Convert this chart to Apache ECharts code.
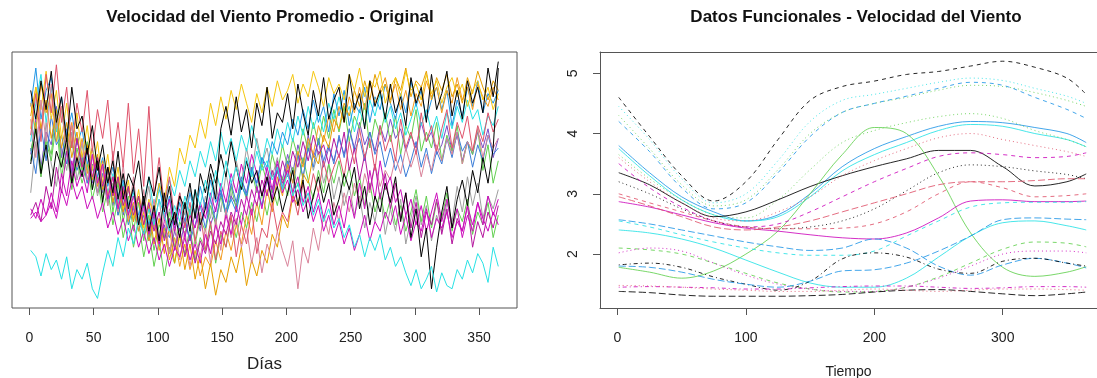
<!DOCTYPE html>
<html>
<head>
<meta charset="utf-8">
<script src="https://cdn.jsdelivr.net/npm/echarts@6/dist/echarts.min.js"></script>
<style>
  html, body { margin: 0; padding: 0; background: #fff; }
  #chart { width: 1097px; height: 378px; }
</style>
</head>
<body>
<div id="chart"></div>
<script>
// ---- left panel: daily wind speed, one reading every 4 days (day 1 .. 365)
const rawBlack = [6.8,5.9,7.1,6.2,7.4,5.8,6.6,5.2,6.9,5.6, 6.0,4.8,5.7,4.3,5.1,3.9,4.6,3.4,4.2,3.1, 3.8,2.6,3.5,2.4,3.2,2.1,3.6,2.5,3.0,2.2, 3.3,2.4,3.7,2.6,3.1,4.2,3.4,5.6,6.3,5.4, 6.6,5.5,6.2,5.0,6.4,5.7,6.9,5.3,6.1,5.8, 6.7,5.6,7.0,6.1,5.4,6.8,6.0,7.2,5.9,6.5, 6.9,5.8,7.3,6.2,6.7,5.6,7.1,6.3,6.8,5.9, 7.0,6.1,6.6,5.7,7.2,6.4,6.9,5.8,7.3,6.2, 6.7,7.4,6.0,6.8,5.9,7.1,6.4,6.9,6.1,7.5,6.6,7.7];
const rawPink = [5.4,6.7,5.2,7.3,6.1,7.6,5.8,6.9,5.0,6.4, 5.5,6.8,4.9,6.2,5.3,6.5,4.6,5.8,4.4,6.4, 4.2,5.6,3.8,6.3,3.5,4.7,3.2,4.1,2.8,3.6, 2.5,3.3,2.1,3.0,1.8,2.7,1.5,2.4,1.9,2.9, 1.6,2.6,2.0,3.1,1.7,2.5,2.2,3.3,2.4,3.0, 2.7,3.6,2.9,3.9,3.3,4.2,3.6,4.6,3.9,4.4, 4.8,4.1,5.2,4.5,5.6,4.7,5.3,4.3,5.7,4.9, 5.4,4.6,5.9,5.0,5.5,4.8,6.1,5.2,5.7,4.9, 5.6,6.2,5.0,5.8,5.3,6.0,4.9,5.7,5.2,6.1,5.5,5.9];
const rawGreen = [4.6,5.8,4.1,5.3,4.8,6.2,4.4,5.5,3.9,5.0, 4.3,5.2,3.7,4.6,3.4,4.4,3.0,3.9,2.7,3.5, 2.4,3.3,2.1,2.9,1.8,2.6,2.2,3.0,1.9,2.7, 2.3,3.1,2.0,2.8,2.4,3.2,2.6,3.5,2.9,3.8, 3.1,3.9,3.4,4.3,3.6,4.5,3.9,4.8,4.2,5.1, 4.4,5.3,4.7,5.6,4.9,5.8,5.1,6.0,5.3,6.2, 5.5,6.3,5.2,6.0,5.6,6.4,5.0,5.9,5.4,6.1, 5.2,6.0,4.8,5.7,5.3,6.2,4.9,5.5,5.0,5.8, 4.6,5.4,4.9,5.7,4.5,5.2,4.8,5.6,4.3,5.1,3.9,4.6];
const rawGreen2 = [4.9,5.6,4.3,5.2,4.6,5.8,4.1,5.0,3.7,4.6, 3.9,4.5,3.4,4.1,3.0,3.7,2.6,3.4,2.2,3.0, 1.9,2.7,1.6,2.4,1.3,2.1,1.0,1.9,1.4,2.3, 1.7,2.5,1.5,2.2,1.8,2.6,1.4,2.3,1.9,2.8, 2.2,3.0,2.5,3.3,2.7,3.6,2.9,3.8,3.2,4.1, 3.5,4.4,3.8,4.7,4.0,3.4,4.3,3.6,4.5,3.9, 4.6,3.8,4.4,3.5,4.1,3.2,3.9,3.0,3.6,2.8, 3.4,2.6,3.2,2.4,3.0,3.7,2.7,3.5,2.5,3.3, 2.8,3.6,2.4,3.1,2.7,3.4,2.3,3.0,2.6,3.3,2.2,2.9];
const rawBlue = [6.3,7.5,5.9,6.8,7.2,6.0,6.6,5.4,6.1,5.1, 5.6,4.5,5.0,4.1,4.7,3.8,4.4,3.5,4.0,3.2, 3.7,2.9,3.4,2.6,3.1,3.9,2.8,3.5,2.5,3.3, 2.7,3.6,2.9,3.8,3.1,4.0,3.3,3.7,2.9,3.4, 3.0,3.8,3.5,4.3,3.9,4.7,4.4,5.2,4.8,5.5, 5.1,5.9,5.4,6.2,5.6,6.5,5.8,6.3,5.5,6.7, 6.0,6.8,5.7,6.4,6.1,6.9,5.8,6.6,6.2,7.0, 6.4,5.9,6.7,6.1,7.1,6.3,6.8,5.9,6.5,6.9, 6.2,6.8,5.7,6.5,6.0,6.9,6.3,7.1,6.1,6.7,6.4,6.8];
const rawBlue2 = [5.0,4.2,5.7,4.6,6.0,5.1,5.4,4.5,5.2,4.3, 4.8,3.9,4.5,3.6,4.2,3.3,3.8,2.9,3.5,2.6, 3.2,2.4,2.9,2.1,2.7,1.9,2.5,2.2,3.0,2.4, 2.8,2.1,2.6,3.2,2.5,3.4,2.7,3.6,3.0,3.9, 3.3,4.1,3.5,4.4,3.8,3.2,4.0,3.4,4.3,3.7, 4.6,3.9,4.8,4.1,5.0,4.4,5.3,4.6,5.1,4.5, 5.4,4.7,5.6,4.9,5.3,4.6,5.5,4.8,5.2,4.4, 5.0,4.3,4.8,4.1,4.6,5.2,4.4,5.0,4.2,4.9, 4.5,5.3,4.7,5.5,4.9,5.2,4.4,5.1,4.6,5.4,4.8,5.0];
const rawCyanLow = [1.8,1.6,1.0,1.7,1.2,1.5,0.9,1.6,0.6,1.2, 0.9,1.4,0.6,0.3,1.1,1.8,1.3,2.2,1.6,2.5, 2.0,2.8,2.3,3.1,2.6,3.4,2.9,2.4,3.2,2.7, 3.5,2.9,3.7,3.2,4.0,3.4,4.3,3.7,4.6,3.9, 4.4,3.8,4.7,4.1,4.9,4.3,4.6,4.0,4.4,3.7, 4.2,3.5,3.9,3.2,3.6,2.9,3.4,2.7,3.1,2.5, 2.8,2.2,2.6,1.9,2.3,1.6,2.2,1.8,2.3,1.5, 1.9,1.3,1.6,1.1,0.7,1.2,0.6,0.9,1.3,0.5, 1.1,0.7,0.6,1.2,0.9,1.5,1.1,1.7,1.4,0.8,1.9,1.3];
const rawCyanHigh = [5.2,6.4,7.3,5.8,6.9,5.5,6.2,4.9,5.7,4.6, 5.1,4.3,4.8,3.9,4.5,3.6,4.2,3.3,3.9,3.0, 3.6,2.8,3.3,4.1,3.0,3.7,3.2,4.0,3.5,4.3, 3.8,4.6,4.1,4.9,4.4,5.2,4.6,5.5,4.8,5.3, 4.6,5.4,4.9,5.7,5.1,4.5,5.3,4.8,5.6,5.0, 5.8,5.2,6.0,5.4,6.3,5.6,6.1,5.5,6.4,5.9, 6.6,5.9,6.3,5.5,6.2,5.7,6.5,6.0,6.7,5.8, 6.3,5.6,6.1,5.4,5.9,6.4,5.7,6.2,5.5,6.0, 5.3,6.1,5.6,6.3,5.8,6.5,5.9,6.2,5.4,6.0,5.7,6.3];
const rawMagenta = [3.1,2.8,3.4,2.9,3.6,3.0,4.2,3.5,4.6,3.8, 4.3,3.6,4.8,3.9,4.5,3.4,4.1,3.1,3.8,2.9, 3.5,2.6,3.2,2.3,3.0,2.0,2.7,3.4,2.4,3.1, 2.2,2.9,2.5,3.3,2.8,3.6,3.0,3.9,3.3,4.2, 3.6,4.5,3.9,4.8,4.2,3.5,4.4,3.7,4.6,3.9, 4.3,3.6,4.1,3.3,3.8,3.0,3.6,2.8,3.4,2.6, 3.2,2.5,3.5,2.8,3.9,3.1,4.3,3.4,4.6,3.7, 4.1,3.3,3.7,2.9,3.4,2.6,3.2,2.4,3.0,3.6, 2.7,3.4,2.5,3.1,2.2,2.9,2.4,3.3,2.6,3.5,2.9,3.4];
const rawMagenta2 = [2.9,3.3,2.7,3.8,3.1,4.4,3.6,4.9,4.0,5.3, 4.4,5.0,4.1,4.7,3.8,4.4,3.5,4.1,3.2,3.8, 2.9,3.5,2.6,3.3,2.4,3.0,2.1,2.8,1.8,2.5, 1.6,2.3,1.4,2.1,1.7,2.4,2.0,2.7,2.3,3.0, 2.6,3.4,2.9,3.7,3.2,4.0,3.5,4.3,3.8,4.6, 4.1,4.9,4.4,5.2,4.6,5.4,4.8,5.1,4.5,5.3, 4.7,5.5,4.3,5.0,4.0,4.8,3.7,4.5,3.4,4.2, 3.1,3.9,2.8,3.6,2.5,3.3,2.2,3.0,2.6,3.4, 2.3,3.1,2.0,2.8,2.4,3.2,1.9,2.7,2.2,3.0,2.5,3.2];
const rawMagenta3 = [2.8,3.0,2.7,2.9,3.3,2.8,3.7,3.2,4.0,3.4, 3.8,3.1,3.5,2.8,3.3,2.5,3.0,2.3,2.8,2.1, 2.6,1.9,2.4,1.7,2.2,1.5,2.0,1.3,1.9,1.6, 2.2,1.5,2.0,1.4,2.3,1.7,2.6,2.0,2.9,2.3, 3.2,2.6,3.5,2.9,3.8,3.1,4.1,3.4,4.4,3.6, 4.0,3.3,3.7,3.0,3.4,2.7,3.2,2.4,2.9,2.2, 2.7,2.0,2.5,1.8,2.3,2.9,2.1,2.7,2.4,3.0, 2.6,3.2,2.3,2.9,2.1,2.7,2.4,3.1,2.2,2.8, 2.5,3.0,2.2,2.7,2.4,3.2,2.6,3.3,2.8,2.4,3.0,2.6];
const rawYellow = [5.6,6.9,6.2,7.4,5.9,6.8,5.3,6.4,5.0,6.1, 4.7,5.7,4.3,5.2,3.9,4.8,3.5,4.4,3.1,4.0, 2.8,3.7,2.5,3.4,2.9,3.9,3.3,4.4,3.8,5.0, 4.5,5.4,5.0,5.9,5.3,6.4,5.7,6.6,5.9,6.8, 6.2,7.0,6.4,5.8,6.7,6.1,6.9,6.3,7.1,6.5, 6.8,7.3,6.4,7.0,6.6,7.4,6.9,6.3,7.2,6.7, 7.0,6.5,7.3,6.8,7.5,6.6,7.1,6.9,7.4,6.4, 6.9,7.2,6.6,7.4,6.8,7.0,6.5,7.3,6.7,7.1, 6.4,6.9,7.2,6.6,7.0,6.3,6.8,7.1,6.5,6.9,6.2,6.7];
const rawGray = [3.6,5.2,4.1,5.8,4.5,3.8,5.0,4.3,5.5,4.0, 4.7,3.9,4.4,3.5,4.2,3.2,3.9,2.9,3.6,3.3, 2.7,3.5,3.0,3.8,2.6,3.4,2.2,3.1,2.5,3.6, 2.9,3.7,3.2,2.5,3.5,2.8,3.9,3.0,4.2,3.4, 4.6,3.9,5.0,4.2,5.3,4.5,5.0,4.1,4.7,3.8, 4.4,3.6,4.8,4.0,5.2,4.3,4.9,3.9,4.5,3.4, 4.1,3.2,3.8,2.9,3.5,2.5,3.3,2.7,3.6,2.3, 3.1,2.4,3.4,2.0,2.8,3.5,2.6,3.2,2.1,2.9, 2.4,3.3,2.7,3.8,3.0,4.1,3.2,3.9,2.8,3.5,3.1,3.7];
const rawOrange = [6.4,5.5,7.0,6.1,6.7,5.2,6.3,4.9,5.8,4.6, 5.3,4.2,5.0,3.8,4.6,3.5,4.1,3.1,3.7,2.7, 3.3,2.4,3.0,2.1,2.7,1.8,2.5,1.5,2.2,1.3, 2.0,1.2,1.8,1.0,1.6,1.3,2.1,1.5,2.4,1.8, 2.6,2.0,2.9,2.3,3.3,2.6,3.7,3.0,4.1,3.5, 4.5,3.9,4.9,4.4,5.3,4.8,5.7,5.2,6.0,5.5, 6.3,5.8,6.6,6.1,6.9,6.2,7.1,6.4,6.8,7.2, 6.5,7.0,6.2,6.8,6.0,6.7,6.3,7.1,6.6,6.9, 6.1,6.8,6.4,7.2,6.5,6.9,6.2,7.0,6.6,6.3,6.9,6.5];
const rawOrange2 = [6.0,6.9,5.6,6.5,5.3,6.2,5.0,5.8,4.7,5.5, 4.4,5.1,4.0,4.8,3.7,4.4,3.3,4.1,3.0,3.8, 2.7,3.5,2.3,3.2,2.0,2.8,1.7,2.5,1.4,2.3, 1.2,2.0,0.9,1.7,0.6,1.4,0.4,1.2,0.8,1.6, 1.1,1.9,0.7,1.5,1.0,1.8,1.4,2.3,1.9,2.9, 2.5,3.5,3.2,4.2,3.9,4.8,4.5,5.4,5.0,5.9, 5.6,6.4,6.0,6.8,6.3,7.1,6.5,7.3,6.7,7.0, 6.4,7.2,6.8,7.5,6.6,7.1,6.9,7.4,6.5,7.2, 6.8,7.3,6.6,7.0,6.4,7.2,6.7,7.4,6.9,6.5,7.1,6.8];
const rawPurple = [4.8,5.9,4.4,5.5,5.1,6.3,4.7,5.6,4.2,5.3, 4.5,5.1,3.9,4.7,3.6,4.3,3.2,4.0,2.9,3.7, 3.1,2.6,3.4,2.2,2.9,2.0,2.6,1.7,2.4,1.9, 2.7,2.1,3.0,2.4,3.3,2.6,3.1,3.7,2.9,3.5, 3.2,4.0,3.6,4.4,3.9,4.7,4.2,3.6,4.5,4.0, 4.8,4.2,5.1,4.5,5.4,4.7,5.2,4.4,5.0,4.6, 5.3,4.8,5.6,5.0,5.8,5.1,5.5,4.9,5.7,5.2, 5.9,5.3,5.6,4.9,5.4,5.0,5.8,5.2,5.5,4.8, 5.1,5.7,4.9,5.4,4.6,5.2,4.8,5.5,5.0,5.6,4.7,5.3];
const rawBlack2 = [4.5,5.6,4.2,5.1,3.8,4.9,4.4,5.3,3.9,4.7, 4.1,5.0,3.7,4.6,3.3,4.4,3.6,4.9,3.4,4.2, 3.8,4.6,3.2,4.1,3.5,4.4,3.0,3.8,2.6,3.5, 3.1,3.9,2.8,4.2,3.6,4.5,3.9,4.8,4.1,5.2, 4.4,3.7,4.6,3.9,4.3,3.5,4.1,3.3,3.8,3.0, 3.6,4.3,3.2,4.0,2.8,3.5,4.1,3.3,3.9,2.9, 3.4,4.2,3.7,4.4,3.1,3.8,2.6,3.5,3.0,3.9, 3.3,4.1,2.7,3.6,2.2,3.1,1.6,2.5,0.6,1.9, 3.0,3.8,2.5,3.4,4.0,3.2,4.3,3.6,4.7,3.9,5.0,7.5];
const rawRose = [5.9,4.7,6.5,5.2,7.0,5.6,6.3,4.8,5.7,4.4, 5.2,4.0,4.8,3.6,4.4,3.2,4.9,3.0,4.5,2.8, 4.1,2.6,3.7,2.3,3.4,2.0,3.0,1.7,2.7,1.5, 2.4,1.3,2.2,1.6,2.5,1.4,2.8,1.8,3.1,2.2, 2.8,1.9,2.5,1.4,2.2,1.1,2.0,1.5,2.4,1.8, 1.3,2.1,0.6,1.9,1.4,2.5,1.8,2.9,2.3,3.3, 2.7,3.6,3.0,3.9,3.3,4.2,3.6,4.5,3.8,4.3, 4.0,4.7,4.2,5.0,4.4,4.9,4.1,4.8,4.3,5.1, 4.6,5.3,4.8,5.5,4.5,5.2,4.9,5.6,4.7,5.4,5.0,5.3];

const rawList = [rawGray, rawPurple, rawGreen, rawGreen2, rawCyanHigh, rawBlue, rawBlue2, rawOrange, rawOrange2,
                 rawYellow, rawRose, rawMagenta2, rawPink, rawMagenta3, rawMagenta, rawBlack2, rawCyanLow, rawBlack];
const rawColors = ['#9E9E9E', '#7A4DC7', '#61D04F', '#61D04F', '#28E2E5', '#2297E6', '#3B7DD8', '#F39B1E', '#E69F00',
                   '#F5C710', '#D9839A', '#B5179E', '#DF536B', '#CD0BBC', '#CD0BBC', '#000000', '#28E2E5', '#000000'];
const rawDayStep = 4;
const rawTicks = [0, 50, 100, 150, 200, 250, 300, 350];

// ---- right panel: smoothed functional curves
const fdDays = [1, 25, 50, 75, 100, 125, 150, 175, 200, 225, 250, 275, 300, 325, 350, 365];
const fdTicksX = [0, 100, 200, 300];
const fdTicksY = [2, 3, 4, 5];
const fdBlackDash = [4.6,3.95,3.3,2.88,3.2,3.9,4.55,4.78,4.87,4.98,5.03,5.12,5.2,5.1,4.92,4.65];
const fdCyanDot = [4.45,3.9,3.25,2.85,3.0,3.55,4.2,4.55,4.65,4.75,4.85,4.92,4.88,4.75,4.62,4.5];
const fdGreenDot = [4.3,3.75,3.15,2.8,2.9,3.4,4.0,4.35,4.5,4.6,4.72,4.8,4.78,4.68,4.55,4.45];
const fdBlueDash = [4.2,3.7,3.1,2.75,2.85,3.35,3.95,4.35,4.5,4.62,4.75,4.85,4.8,4.6,4.4,4.25];
const fdBlueSolid = [3.8,3.35,2.95,2.7,2.55,2.65,3.0,3.45,3.75,3.95,4.12,4.2,4.18,4.1,4.0,3.85];
const fdCyanSolid = [3.75,3.3,2.9,2.65,2.55,2.62,2.95,3.38,3.65,3.85,4.05,4.15,4.12,4.0,3.9,3.78];
const fdGreenDot2 = [3.65,3.25,2.9,2.65,2.6,2.9,3.4,3.85,4.05,4.18,4.28,4.33,4.25,4.05,3.9,3.78];
const fdBlackSolid = [3.35,3.15,2.85,2.62,2.7,2.9,3.12,3.3,3.45,3.58,3.72,3.72,3.45,3.13,3.2,3.33];
const fdGreenSolid = [1.78,1.7,1.6,1.72,2.0,2.38,3.0,3.65,4.1,4.0,3.3,2.35,1.78,1.63,1.7,1.79];
const fdPinkDot = [3.6,3.2,2.85,2.6,2.55,2.7,2.95,3.3,3.55,3.75,3.93,4.0,3.9,3.8,3.7,3.62];
const fdMagentaDash = [3.5,3.1,2.78,2.55,2.45,2.5,2.7,2.95,3.2,3.42,3.62,3.68,3.65,3.6,3.62,3.68];
const fdBlackDot = [3.2,3.0,2.75,2.55,2.45,2.42,2.45,2.55,2.75,3.05,3.35,3.48,3.45,3.38,3.32,3.25];
const fdPinkDash = [3.0,2.85,2.7,2.55,2.45,2.42,2.42,2.43,2.5,2.7,3.0,3.2,3.1,2.95,2.97,3.0];
const fdMagentaSolid = [2.87,2.78,2.65,2.52,2.43,2.38,2.32,2.27,2.25,2.35,2.6,2.88,2.9,2.87,2.87,2.88];
const fdPinkLong = [2.95,2.8,2.62,2.45,2.4,2.45,2.55,2.7,2.85,3.0,3.15,3.2,3.2,3.22,3.25,3.25];
const fdBlueLong = [2.57,2.5,2.4,2.3,2.2,2.12,2.06,2.1,2.25,2.1,1.8,1.65,1.82,1.93,1.85,1.77];
const fdCyanDash = [2.55,2.45,2.32,2.2,2.1,2.02,1.98,1.98,2.05,2.3,2.55,2.78,2.85,2.86,2.86,2.87];
const fdCyanSolid2 = [2.4,2.35,2.25,2.1,1.9,1.7,1.52,1.45,1.45,1.6,1.95,2.3,2.52,2.55,2.47,2.4];
const fdGreenDash = [2.1,2.07,2.0,1.85,1.68,1.52,1.42,1.37,1.38,1.45,1.62,1.85,2.08,2.2,2.18,2.12];
const fdMagentaDot = [2.02,2.1,2.05,1.85,1.65,1.5,1.42,1.38,1.38,1.45,1.6,1.8,2.0,2.05,2.05,2.02];
const fdBlackDotDash = [1.82,1.85,1.78,1.62,1.5,1.4,1.55,1.92,2.02,1.95,1.75,1.68,1.88,1.93,1.85,1.8];
const fdBlueLong2 = [1.8,1.78,1.7,1.58,1.5,1.45,1.55,1.72,1.74,1.85,2.05,2.3,2.57,2.6,2.58,2.57];
const fdMagentaDotDash = [1.45,1.46,1.45,1.44,1.42,1.42,1.44,1.46,1.47,1.47,1.45,1.43,1.44,1.46,1.46,1.45];
const fdBlackLong = [1.38,1.36,1.32,1.3,1.3,1.3,1.31,1.33,1.37,1.4,1.41,1.38,1.34,1.31,1.34,1.37];
const fdPinkDot2 = [1.48,1.47,1.45,1.42,1.4,1.38,1.38,1.4,1.42,1.4,1.38,1.4,1.42,1.42,1.41,1.4];

const K = '#000000', PK = '#DF536B', GR = '#61D04F', BL = '#2297E6', CY = '#28E2E5', MG = '#CD0BBC';
const SOLID = 'solid', DASH = [4, 4], DOT = [1, 3], DOTDASH = [1, 3, 4, 3], LONG = [7, 3];

const fdCurves = [
  [fdBlackDash, K, DASH], [fdCyanDot, CY, DOT], [fdGreenDot, GR, DOT], [fdBlueDash, BL, DASH],
  [fdBlueSolid, BL, SOLID], [fdCyanSolid, CY, SOLID], [fdGreenDot2, GR, DOT], [fdBlackSolid, K, SOLID],
  [fdGreenSolid, GR, SOLID], [fdPinkDot, PK, DOT], [fdMagentaDash, MG, DASH], [fdBlackDot, K, DOT],
  [fdPinkDash, PK, DASH], [fdMagentaSolid, MG, SOLID], [fdPinkLong, PK, LONG], [fdBlueLong, BL, LONG],
  [fdCyanDash, CY, DASH], [fdCyanSolid2, CY, SOLID], [fdGreenDash, GR, DASH], [fdMagentaDot, MG, DOT],
  [fdBlackDotDash, K, DOTDASH], [fdBlueLong2, BL, LONG], [fdMagentaDotDash, MG, DOTDASH],
  [fdBlackLong, K, LONG], [fdPinkDot2, PK, DOT]
];

const FONT = 'Liberation Sans, Arial, Helvetica, sans-serif';
const chart = echarts.init(document.getElementById('chart'));

const series = [];
rawList.forEach((vals, k) => {
  series.push({
    type: 'line', xAxisIndex: 0, yAxisIndex: 0,
    data: vals.map((v, i) => [1 + rawDayStep * i, v]),
    showSymbol: false, silent: true,
    lineStyle: { width: 1, color: rawColors[k] }
  });
});
fdCurves.forEach(([vals, color, dash]) => {
  series.push({
    type: 'line', xAxisIndex: 1, yAxisIndex: 1,
    data: vals.map((v, i) => [fdDays[i], v]),
    showSymbol: false, silent: true, smooth: 0.35,
    lineStyle: { width: 1, color: color, type: dash, opacity: 0.85 }
  });
});

const BOX = '#555';
const tickStyle = { length: 7, lineStyle: { color: BOX } };
const labelStyle = { fontSize: 14, color: '#222', fontFamily: FONT };
// right box runs past the window edge, so its scale is set by the visible width
const fdMinX = -13.6, fdMaxX = 373.4;

chart.setOption({
  animation: false,
  backgroundColor: '#fff',
  title: [
    { text: 'Velocidad del Viento Promedio - Original', left: 265, top: 4, textAlign: 'center',
      textStyle: { fontSize: 17, fontWeight: 'bold', color: '#111', fontFamily: FONT } },
    { text: 'Datos Funcionales - Velocidad del Viento', left: 851, top: 4, textAlign: 'center',
      textStyle: { fontSize: 17, fontWeight: 'bold', color: '#111', fontFamily: FONT } }
  ],
  grid: [
    { left: 12, top: 52, width: 505, height: 256, show: true, borderColor: BOX, borderWidth: 1,
      outerBoundsMode: 'none' },
    { left: 600, top: 52, width: 497, height: 256, show: false, outerBoundsMode: 'none' }
  ],
  xAxis: [
    { type: 'value', gridIndex: 0, min: -13.56, max: 379.56,
      axisLine: { show: false, onZero: false }, splitLine: { show: false },
      axisTick: Object.assign({ customValues: rawTicks }, tickStyle),
      axisLabel: Object.assign({ customValues: rawTicks, margin: 23 }, labelStyle),
      name: 'Días', nameLocation: 'middle', nameGap: 48,
      nameTextStyle: { fontSize: 17, color: '#222', fontFamily: FONT } },
    { type: 'value', gridIndex: 1, min: fdMinX, max: fdMaxX,
      axisLine: { show: true, onZero: false, lineStyle: { color: BOX } }, splitLine: { show: false },
      axisTick: Object.assign({ customValues: fdTicksX }, tickStyle),
      axisLabel: Object.assign({ customValues: fdTicksX, margin: 23 }, labelStyle),
      name: 'Tiempo', nameLocation: 'middle', nameGap: 57,
      nameTextStyle: { fontSize: 14, color: '#222', fontFamily: FONT } },
    { type: 'value', gridIndex: 1, position: 'top', min: fdMinX, max: fdMaxX,
      axisLine: { show: true, onZero: false, lineStyle: { color: BOX } },
      axisTick: { show: false }, axisLabel: { show: false }, splitLine: { show: false } }
  ],
  yAxis: [
    { type: 'value', gridIndex: 0, min: 0, max: 8,
      axisLine: { show: false, onZero: false }, axisTick: { show: false }, axisLabel: { show: false }, splitLine: { show: false } },
    { type: 'value', gridIndex: 1, min: 1.105, max: 5.353,
      axisLine: { show: true, onZero: false, lineStyle: { color: BOX } }, splitLine: { show: false },
      axisTick: Object.assign({ customValues: fdTicksY }, tickStyle),
      axisLabel: Object.assign({ customValues: fdTicksY, rotate: 90, margin: 20 }, labelStyle) }
  ],
  series: series
});
</script>
</body>
</html>
